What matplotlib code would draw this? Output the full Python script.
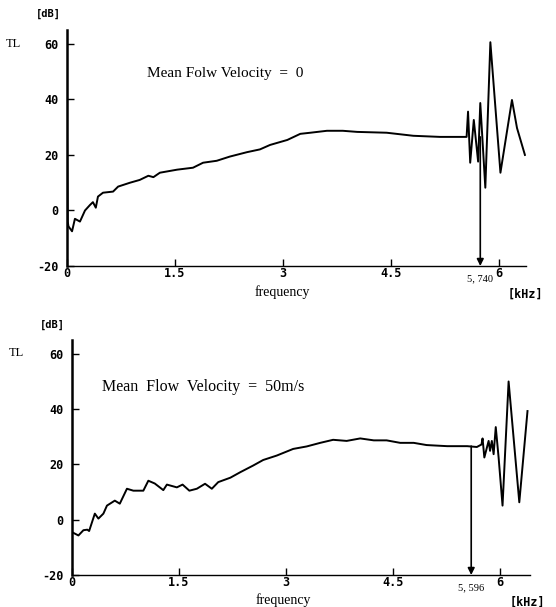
import matplotlib
matplotlib.use("Agg")
import matplotlib.pyplot as plt

# Transmission loss, no mean flow  (frequency in kHz, TL in dB)
f_still = [0.0, 0.01, 0.02, 0.07, 0.11, 0.18, 0.25, 0.32, 0.36, 0.40, 0.43,
           0.50, 0.64, 0.71, 0.875, 1.01, 1.13, 1.20, 1.29, 1.53, 1.75, 1.89,
           2.08, 2.26, 2.50, 2.68, 2.82, 3.06, 3.24, 3.38, 3.61, 3.83, 4.03,
           4.44, 4.81, 5.18, 5.55, 5.57, 5.60, 5.65, 5.71, 5.74, 5.81, 5.88,
           6.02, 6.18, 6.25, 6.36]
tl_still = [29, -4, -5.7, -7.5, -3, -4, 0, 2, 3, 1, 5,
            6.4, 6.8, 8.6, 10, 11, 12.5, 12, 13.6, 14.7, 15.4, 17.2,
            17.9, 19.4, 21, 22, 23.6, 25.4, 27.6, 28, 28.7, 28.7, 28.3,
            28, 26.9, 26.5, 26.5, 35.6, 17.2, 32.6, 17.6, 38.7, 8.2, 60.6,
            13.6, 39.8, 29.7, 20]

# Transmission loss, 50 m/s mean flow
f_flow = [0.0, 0.09, 0.16, 0.215, 0.24, 0.32, 0.37, 0.44, 0.49, 0.60, 0.67,
          0.77, 0.86, 1.0, 1.07, 1.16, 1.28, 1.33, 1.47, 1.55, 1.645, 1.75,
          1.865, 1.96, 2.05, 2.22, 2.36, 2.54, 2.68, 2.87, 3.10, 3.29, 3.48,
          3.66, 3.85, 4.04, 4.23, 4.41, 4.60, 4.79, 4.97, 5.26, 5.54, 5.675,
          5.74, 5.755, 5.78, 5.84, 5.86, 5.885, 5.91, 5.94, 5.98, 6.035,
          6.12, 6.27, 6.385]
tl_flow = [-4.5, -5.7, -3.8, -3.6, -4.1, 2.2, 0.4, 2.2, 5.1, 6.9, 5.8,
           11.2, 10.5, 10.5, 14.1, 13.1, 10.7, 12.7, 11.7, 12.7, 10.5, 11.2,
           13, 11.2, 13.6, 15.2, 17.2, 19.6, 21.6, 23.2, 25.6, 26.5, 27.8,
           28.9, 28.5, 29.4, 28.7, 28.7, 27.8, 27.8, 27, 26.6, 26.6, 26.3,
           27.2, 29.4, 22.5, 28.5, 24.9, 28.5, 23.7, 33.5, 22.5, 5.1,
           50, 6.3, 39.3]

x_ticks = [0, 1.5, 3, 4.5, 6]
x_tick_labels = ["0", "1.5", "3", "4.5", "6"]
y_ticks = [-20, 0, 20, 40, 60]

titles = ["Mean Folw Velocity  =  0", "Mean  Flow  Velocity  =  50m/s"]
title_sizes = [11, 11.5]
cutoffs = [5.740, 5.596]
cutoff_labels = ["5, 740", "5, 596"]
cutoff_levels = [26.5, 26.6]

W, H = 556, 607
fig = plt.figure(figsize=(W / 100, H / 100), dpi=100)


def fx(x):
    return x / W


def fy(y):
    return 1 - y / H


MONO = "DejaVu Sans Mono"
SERIF = "Liberation Serif"

# (left, bottom, right, top) in pixels, x limit, title position (px)
panels = [((67, 266, 526, 30), 6.375, (147, 73)),
          ((72, 575, 530, 340), 6.42, (102, 387))]
data = [(f_still, tl_still), (f_flow, tl_flow)]

for k, ((l, b, r, t), xmax, (tx, ty)) in enumerate(panels):
    ax = fig.add_axes([fx(l), fy(b), fx(r) - fx(l), fy(t) - fy(b)])
    f, tl = data[k]
    ax.plot(f, tl, color="black", lw=1.4)
    ax.set_xlim(0, xmax)
    ax.set_ylim(-20, 65)

    for s in ("top", "right"):
        ax.spines[s].set_visible(False)
    ax.spines["left"].set_linewidth(1.8)
    ax.spines["bottom"].set_linewidth(1.0)

    ax.set_xticks(x_ticks)
    ax.set_xticklabels(x_tick_labels, fontfamily=MONO, fontweight="bold", fontsize=8.5)
    ax.set_yticks(y_ticks)
    ax.set_yticklabels([str(v) for v in y_ticks], fontfamily=MONO,
                       fontweight="bold", fontsize=8.5)
    ax.tick_params(axis="x", direction="in", length=5, width=1, pad=1)
    ax.tick_params(axis="y", direction="in", length=5, width=1, pad=6)

    # cutoff arrow down to the frequency axis
    ax.annotate("", xy=(cutoffs[k], -20), xytext=(cutoffs[k], cutoff_levels[k]),
                arrowprops=dict(arrowstyle="-|>", color="black", lw=1.2,
                                mutation_scale=10, shrinkA=0, shrinkB=0))
    ax.annotate(cutoff_labels[k], xy=(cutoffs[k], -20), xytext=(0, -9),
                textcoords="offset points", ha="center", va="center",
                fontfamily=SERIF, fontsize=7.5)

    fig.text(fx(tx), fy(ty), titles[k], fontfamily=SERIF,
             fontsize=title_sizes[k], va="center")

# axis captions
fig.text(fx(48), fy(14), "[dB]", fontfamily=MONO, fontweight="bold", fontsize=7.5,
         ha="center", va="center")
fig.text(fx(13), fy(44), "TL", fontfamily=SERIF, fontsize=9, ha="center", va="center")
fig.text(fx(282), fy(292), "frequency", fontfamily=SERIF, fontsize=10,
         ha="center", va="center")
fig.text(fx(525), fy(294), "[kHz]", fontfamily=MONO, fontweight="bold", fontsize=8.5,
         ha="center", va="center")

fig.text(fx(52), fy(325), "[dB]", fontfamily=MONO, fontweight="bold", fontsize=7.5,
         ha="center", va="center")
fig.text(fx(16), fy(353), "TL", fontfamily=SERIF, fontsize=9, ha="center", va="center")
fig.text(fx(283), fy(600), "frequency", fontfamily=SERIF, fontsize=10,
         ha="center", va="center")
fig.text(fx(527), fy(602), "[kHz]", fontfamily=MONO, fontweight="bold", fontsize=8.5,
         ha="center", va="center")

fig.savefig("out.png", dpi=100, facecolor="white")
